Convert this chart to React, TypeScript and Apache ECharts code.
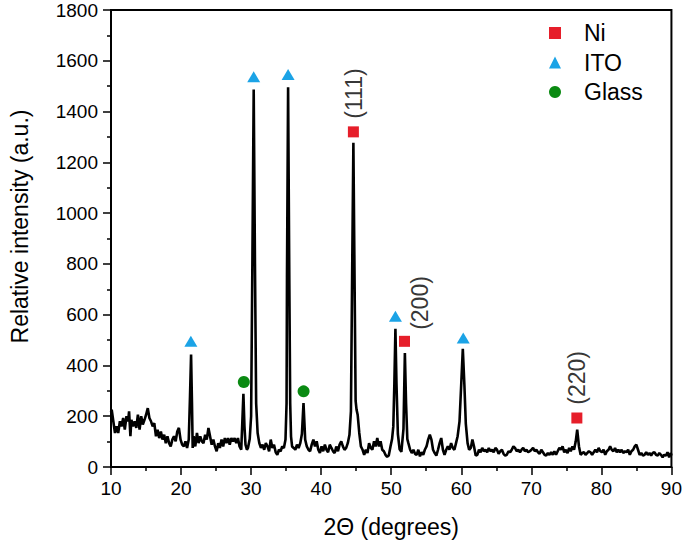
import React, { useEffect, useRef } from "react";
import * as echarts from "echarts";

// XRD trace: [2θ (degrees), relative intensity (a.u.)]
const trace10to31: [number, number][] = [
  [10.0, 215], [10.1, 226], [10.33, 180], [10.57, 134], [10.8, 160], [11.03, 134], [11.27, 180], [11.5, 160],
  [11.74, 193], [11.97, 147], [12.21, 200], [12.44, 180], [12.58, 219], [12.77, 121], [12.91, 186], [13.14, 160],
  [13.38, 180], [13.61, 154], [13.84, 206], [14.08, 147], [14.31, 200], [14.54, 167], [14.78, 186], [15.01, 206],
  [15.25, 232], [15.48, 193], [15.71, 180], [15.95, 160], [16.18, 173], [16.42, 121], [16.65, 147], [16.88, 114],
  [17.12, 140], [17.35, 108], [17.59, 127], [17.82, 94], [18.06, 121], [18.29, 94], [18.52, 81], [18.76, 108],
  [18.99, 121], [19.23, 101], [19.46, 140], [19.69, 154], [19.93, 108], [20.16, 88], [20.4, 81], [20.63, 101],
  [20.86, 75], [21.1, 108], [21.28, 280], [21.43, 443], [21.56, 250], [21.66, 75], [21.8, 121], [22.03, 81],
  [22.27, 134], [22.5, 94], [22.74, 121], [22.97, 101], [23.2, 94], [23.44, 127], [23.67, 108], [23.91, 154],
  [24.14, 121], [24.37, 88], [24.61, 108], [24.84, 81], [25.08, 62], [25.31, 94], [25.54, 75], [25.78, 108],
  [26.01, 81], [26.25, 114], [26.48, 94], [26.71, 114], [26.95, 88], [27.18, 114], [27.42, 101], [27.65, 114],
  [27.88, 94], [28.12, 114], [28.35, 81], [28.59, 68], [28.75, 180], [28.9, 288], [29.05, 160], [29.2, 88],
  [29.4, 68], [29.55, 75], [29.8, 110], [30.0, 200], [30.18, 800], [30.37, 1487], [30.55, 800], [30.72, 250],
  [30.93, 134],
];

const trace31to46: [number, number][] = [
  [31.17, 94], [31.4, 75], [31.63, 88], [31.87, 68], [32.1, 94], [32.34, 81], [32.57, 62], [32.8, 108],
  [33.04, 75], [33.27, 88], [33.51, 58], [33.74, 48], [33.97, 68], [34.21, 62], [34.44, 81], [34.68, 75],
  [34.91, 108], [35.06, 250], [35.12, 750], [35.28, 1496], [35.45, 750], [35.58, 250], [35.7, 120], [35.85, 81],
  [36.08, 75], [36.31, 68], [36.55, 88], [36.78, 75], [37.02, 94], [37.25, 130], [37.48, 252], [37.72, 108],
  [37.95, 81], [38.19, 68], [38.42, 62], [38.65, 88], [38.89, 108], [39.12, 81], [39.36, 101], [39.59, 68],
  [39.82, 55], [40.06, 81], [40.29, 62], [40.53, 88], [40.76, 68], [40.99, 58], [41.23, 88], [41.46, 75],
  [41.7, 62], [41.93, 55], [42.16, 81], [42.4, 62], [42.63, 88], [42.87, 101], [43.1, 81], [43.33, 68],
  [43.57, 75], [43.8, 94], [44.04, 127], [44.25, 220], [44.42, 750], [44.6, 1277], [44.78, 700], [44.92, 260],
  [45.05, 226], [45.21, 206], [45.44, 134], [45.67, 81], [45.91, 68],
];

const trace46to61: [number, number][] = [
  [46.14, 48], [46.38, 68], [46.61, 55], [46.84, 94], [47.08, 75], [47.31, 68], [47.55, 101], [47.78, 81],
  [48.01, 114], [48.25, 81], [48.48, 101], [48.72, 68], [48.95, 62], [49.18, 48], [49.42, 40], [49.65, 45],
  [49.89, 80], [50.12, 110], [50.3, 160], [50.45, 330], [50.6, 544], [50.75, 330], [50.95, 130], [51.2, 70],
  [51.45, 60], [51.75, 150], [51.95, 449], [52.12, 250], [52.3, 110], [52.45, 94], [52.7, 68], [52.93, 55],
  [53.17, 68], [53.4, 52], [53.63, 48], [53.87, 68], [54.1, 42], [54.34, 58], [54.57, 48], [54.8, 68],
  [55.04, 81], [55.27, 108], [55.51, 127], [55.74, 108], [55.97, 68], [56.21, 55], [56.44, 45], [56.68, 68],
  [56.91, 94], [57.14, 114], [57.38, 68], [57.61, 48], [57.85, 68], [58.08, 81], [58.31, 68], [58.55, 94],
  [58.78, 75], [59.02, 68], [59.25, 94], [59.48, 121], [59.75, 180], [60.0, 330], [60.22, 466], [60.45, 320],
  [60.65, 170], [60.9, 94],
];

const trace61to90: [number, number][] = [
  [61.12, 68], [61.36, 75], [61.59, 108], [61.82, 81], [62.06, 45], [62.29, 48], [62.53, 68], [62.76, 58],
  [62.99, 75], [63.23, 62], [63.46, 68], [63.7, 58], [63.93, 75], [64.16, 62], [64.4, 68], [64.63, 58],
  [64.87, 75], [65.1, 68], [65.33, 52], [65.57, 62], [65.8, 68], [66.04, 52], [66.27, 45], [66.5, 48],
  [66.74, 62], [66.97, 58], [67.21, 68], [67.44, 81], [67.67, 75], [67.91, 62], [68.14, 68], [68.38, 58],
  [68.61, 68], [68.84, 75], [69.08, 62], [69.31, 68], [69.55, 58], [69.78, 62], [70.02, 68], [70.25, 75],
  [70.49, 62], [70.72, 68], [70.95, 58], [71.19, 52], [71.42, 68], [71.66, 58], [71.89, 48], [72.12, 45],
  [72.36, 55], [72.59, 48], [72.83, 58], [73.06, 48], [73.29, 62], [73.53, 48], [73.76, 62], [74.0, 75],
  [74.23, 68], [74.46, 81], [74.7, 58], [74.93, 68], [75.17, 55], [75.4, 75], [75.63, 62], [75.87, 81],
  [76.1, 68], [76.34, 101], [76.55, 147], [76.8, 81], [77.04, 48], [77.27, 55], [77.51, 58], [77.74, 48],
  [77.97, 55], [78.21, 62], [78.44, 58], [78.68, 48], [78.91, 58], [79.14, 68], [79.38, 58], [79.61, 75],
  [79.85, 62], [80.08, 58], [80.31, 68], [80.55, 48], [80.78, 62], [81.02, 68], [81.25, 81], [81.48, 68],
  [81.72, 62], [81.95, 75], [82.19, 58], [82.42, 68], [82.65, 58], [82.89, 68], [83.12, 55], [83.36, 62],
  [83.59, 58], [83.82, 68], [84.06, 48], [84.29, 62], [84.53, 68], [84.76, 81], [84.99, 88], [85.23, 68],
  [85.46, 48], [85.7, 55], [85.93, 45], [86.16, 48], [86.4, 58], [86.63, 48], [86.87, 55], [87.1, 45],
  [87.33, 55], [87.57, 58], [87.8, 48], [88.04, 45], [88.27, 55], [88.51, 48], [88.74, 38], [88.97, 48],
  [89.21, 45], [89.44, 58], [89.68, 38], [89.91, 55], [90.0, 45],
];

// phase markers
const niMarkers: [number, number][] = [[44.6, 1320], [51.9, 495], [76.5, 193]];
const itoMarkers: [number, number][] = [[21.4, 495], [30.37, 1537], [35.28, 1546], [50.6, 594], [60.28, 508]];
const glassMarkers: [number, number][] = [[28.96, 335], [37.49, 298]];

// Miller-index labels
const hklLabels = ["(111)", "(200)", "(220)"];
const hklPositions: [number, number][] = [[44.72, 1471], [54.1, 646], [76.57, 351]];

// axes
const xMin = 10, xMax = 90, xStep = 10;
const yMin = 0, yMax = 1800, yStep = 200;

const FONT = "'Liberation Sans', Arial, sans-serif";
const RED = "#E61E2A";
const BLUE = "#1BA3E6";
const GREEN = "#0A8A12";

export default function App() {
  const ref = useRef<HTMLDivElement>(null);

  useEffect(() => {
    if (!ref.current) return;
    const chart = echarts.init(ref.current, null, { renderer: "svg" });
    const trace = [...trace10to31, ...trace31to46, ...trace46to61, ...trace61to90];

    const axisCommon = {
      axisLine: { show: true, onZero: false, lineStyle: { color: "#000", width: 2 } },
      axisTick: { show: true, inside: false, length: 8, lineStyle: { color: "#000", width: 1.5 } },
      minorTick: { show: true, splitNumber: 2, length: 4, lineStyle: { color: "#000", width: 1.5 } },
      splitLine: { show: false },
    };

    chart.setOption({
      animation: false,
      backgroundColor: "#fff",
      textStyle: { fontFamily: FONT },
      grid: {
        left: 104,
        right: 12,
        top: 10,
        bottom: 77,
        show: true,
        borderColor: "#000",
        borderWidth: 2,
        backgroundColor: "transparent",
      },
      legend: {
        data: ["Ni", "ITO", "Glass"],
        orient: "vertical",
        left: 549,
        top: 21,
        padding: 0,
        itemWidth: 12,
        itemHeight: 12,
        itemGap: 5.5,
        textStyle: {
          fontFamily: FONT,
          fontSize: 23,
          color: "#000",
          lineHeight: 24,
          padding: [0, 0, 0, 18],
        },
      },
      xAxis: {
        type: "value",
        min: xMin,
        max: xMax,
        interval: xStep,
        name: "2Θ (degrees)",
        nameLocation: "middle",
        nameGap: 48,
        nameTextStyle: { fontFamily: FONT, fontSize: 23, color: "#000" },
        axisLabel: { fontFamily: FONT, fontSize: 19, color: "#000", margin: 12, formatter: (v: number) => String(v) },
        ...axisCommon,
      },
      yAxis: {
        type: "value",
        min: yMin,
        max: yMax,
        interval: yStep,
        name: "Relative intensity (a.u.)",
        nameLocation: "middle",
        nameGap: 80,
        nameTextStyle: { fontFamily: FONT, fontSize: 23, color: "#000", padding: [0, 0, 0, 24] },
        axisLabel: { fontFamily: FONT, fontSize: 19, color: "#000", margin: 13, formatter: (v: number) => String(v) },
        ...axisCommon,
      },
      series: [
        {
          name: "XRD",
          type: "line",
          data: trace,
          showSymbol: false,
          symbol: "none",
          lineStyle: { color: "#000", width: 2.6 },
          z: 2,
        },
        {
          name: "Ni",
          type: "scatter",
          data: niMarkers,
          symbol: "rect",
          symbolSize: 11,
          itemStyle: { color: RED, opacity: 1 },
          z: 3,
        },
        {
          name: "ITO",
          type: "scatter",
          data: itoMarkers,
          symbol: "triangle",
          symbolSize: [13, 11],
          itemStyle: { color: BLUE, opacity: 1 },
          z: 3,
        },
        {
          name: "Glass",
          type: "scatter",
          data: glassMarkers,
          symbol: "circle",
          symbolSize: 12,
          itemStyle: { color: GREEN, opacity: 1 },
          z: 3,
        },
        {
          name: "hkl",
          type: "scatter",
          data: hklLabels.map((n, i) => ({ name: n, value: hklPositions[i] })),
          symbolSize: 0,
          label: {
            show: true,
            position: "inside",
            rotate: 90,
            formatter: "{b}",
            fontFamily: FONT,
            fontSize: 23,
            color: "#000",
          },
          z: 4,
        },
      ],
    });
    return () => chart.dispose();
  }, []);

  return (
    <div
      ref={ref}
      style={{ position: "absolute", left: 0, top: 0, width: 685, height: 544, background: "#fff" }}
    />
  );
}
